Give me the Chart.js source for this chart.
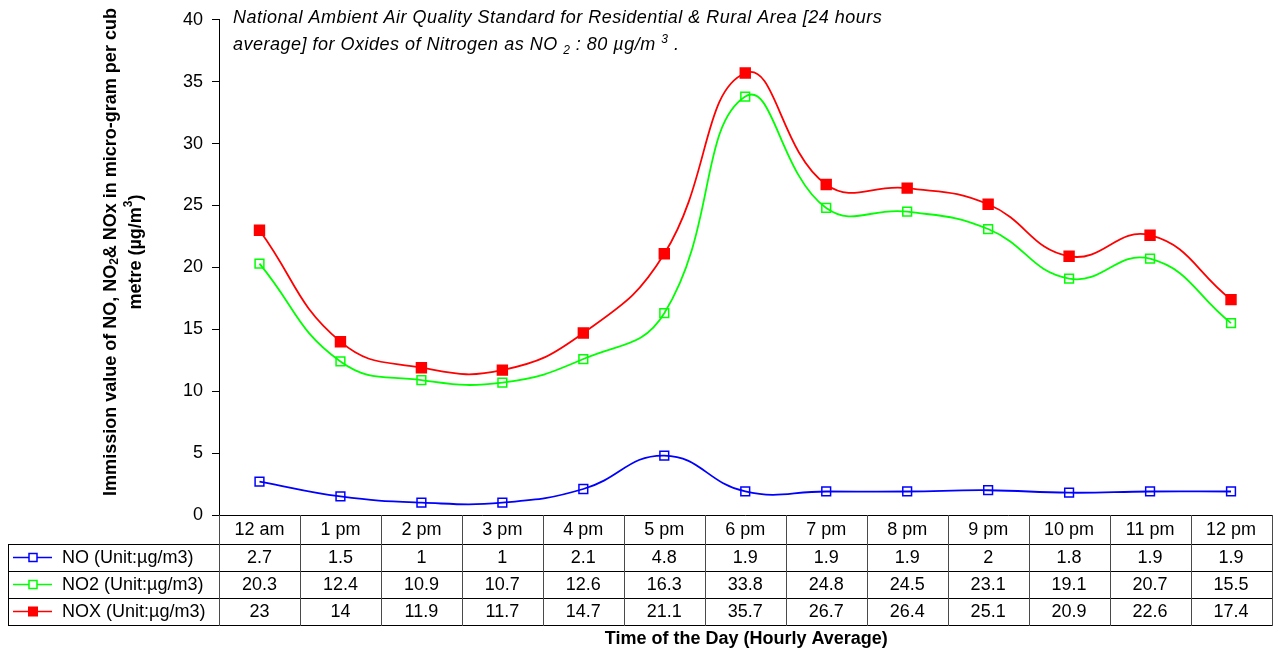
<!DOCTYPE html>
<html>
<head>
<meta charset="utf-8">
<title>Oxides of Nitrogen – hourly average</title>
<script src="https://cdn.jsdelivr.net/npm/chart.js@4/dist/chart.umd.min.js"></script>
<style>
  html, body { margin: 0; padding: 0; background: #ffffff; }
  canvas { display: block; }
</style>
</head>
<body>
<canvas id="chart" width="1280" height="652"></canvas>
<script>
// Hourly categories and the three measured series (µg/m³)
const categories = ['12 am', '1 pm', '2 pm', '3 pm', '4 pm', '5 pm', '6 pm', '7 pm', '8 pm', '9 pm', '10 pm', '11 pm', '12 pm'];
const noValues  = [2.7, 1.5, 1, 1, 2.1, 4.8, 1.9, 1.9, 1.9, 2, 1.8, 1.9, 1.9];
const no2Values = [20.3, 12.4, 10.9, 10.7, 12.6, 16.3, 33.8, 24.8, 24.5, 23.1, 19.1, 20.7, 15.5];
const noxValues = [23, 14, 11.9, 11.7, 14.7, 21.1, 35.7, 26.7, 26.4, 25.1, 20.9, 22.6, 17.4];
const seriesNames = ['NO (Unit:µg/m3)', 'NO2 (Unit:µg/m3)', 'NOX (Unit:µg/m3)'];
const yMin = 0, yMax = 40, yStep = 5;

const FONT = '"Liberation Sans", Arial, Helvetica, sans-serif';
const colors = ['#0000FF', '#00FF00', '#FF0000'];
const seriesValues = [noValues, no2Values, noxValues];

// Draws a run of text pieces, some of them sub- or superscripted
function drawRich(ctx, parts, x, y, size, style, align, spacing) {
  ctx.letterSpacing = spacing || '0px';
  const widths = parts.map(p => {
    ctx.font = `${style} ${p.s ? Math.round(size * 0.65) : size}px ${FONT}`;
    return ctx.measureText(p.t).width;
  });
  const total = widths.reduce((a, b) => a + b, 0);
  let cx = align === 'center' ? x - total / 2 : x;
  ctx.textAlign = 'left';
  parts.forEach((p, i) => {
    ctx.font = `${style} ${p.s ? Math.round(size * 0.65) : size}px ${FONT}`;
    let dy = 0;
    if (p.s === 'sub') dy = size * 0.2;
    if (p.s === 'sup') dy = -size * 0.4;
    ctx.fillText(p.t, cx, y + dy);
    cx += widths[i];
  });
  ctx.letterSpacing = '0px';
}

function drawKey(ctx, idx, cx, cy) {
  ctx.save();
  ctx.strokeStyle = colors[idx];
  ctx.lineWidth = 1.5;
  ctx.beginPath();
  ctx.moveTo(13, cy);
  ctx.lineTo(52, cy);
  ctx.stroke();
  if (idx === 2) {
    ctx.fillStyle = colors[idx];
    ctx.fillRect(cx - 5, cy - 5, 10, 10);
  } else {
    ctx.fillStyle = '#ffffff';
    ctx.fillRect(cx - 4, cy - 4, 8, 8);
    ctx.strokeRect(cx - 4, cy - 4, 8, 8);
  }
  ctx.restore();
}

// Data table under the plot, plus the free-standing texts
const tablePlugin = {
  id: 'dataTable',
  afterDraw(chart) {
    const ctx = chart.ctx;
    const xs = chart.scales.x;
    const area = chart.chartArea;
    const n = categories.length;
    const bounds = [];
    for (let i = 0; i <= n; i++) {
      if (i === 0) bounds.push(area.left);
      else if (i === n) bounds.push(area.right);
      else bounds.push((xs.getPixelForValue(i - 1) + xs.getPixelForValue(i)) / 2);
    }
    const tableLeft = 8;
    const headerTop = area.bottom;
    const headerH = 29;
    const rowH = 27;
    const rowTops = [headerTop + headerH, headerTop + headerH + rowH, headerTop + headerH + 2 * rowH];
    const tableBottom = headerTop + headerH + 3 * rowH;

    ctx.save();
    // grid of the table
    ctx.lineWidth = 1;
    ctx.strokeStyle = '#000000';
    ctx.beginPath();
    rowTops.concat([tableBottom]).forEach(y => {
      ctx.moveTo(tableLeft, Math.round(y) + 0.5);
      ctx.lineTo(area.right + 0.5, Math.round(y) + 0.5);
    });
    ctx.moveTo(tableLeft + 0.5, rowTops[0]);
    ctx.lineTo(tableLeft + 0.5, tableBottom + 1);
    ctx.stroke();
    ctx.strokeStyle = '#4a4a4a';
    ctx.beginPath();
    bounds.forEach(bx => {
      ctx.moveTo(Math.round(bx) + 0.5, headerTop);
      ctx.lineTo(Math.round(bx) + 0.5, tableBottom + 1);
    });
    ctx.stroke();

    // header labels and values
    ctx.fillStyle = '#000000';
    ctx.textAlign = 'center';
    ctx.textBaseline = 'middle';
    ctx.font = `18px ${FONT}`;
    categories.forEach((c, i) => {
      ctx.fillText(c, xs.getPixelForValue(i), headerTop + headerH / 2 + 1);
    });
    seriesValues.forEach((vals, r) => {
      const cy = rowTops[r] + rowH / 2 + 1;
      vals.forEach((v, i) => {
        ctx.fillText(String(v), xs.getPixelForValue(i), cy);
      });
      drawKey(ctx, r, 33, cy - 1);
      ctx.textAlign = 'left';
      ctx.fillStyle = '#000000';
      ctx.font = `18px ${FONT}`;
      ctx.fillText(seriesNames[r], 62, cy);
      ctx.textAlign = 'center';
    });

    // x-axis title
    ctx.font = `bold 18px ${FONT}`;
    ctx.fillText('Time of the Day (Hourly Average)', (area.left + area.right) / 2 + 1, 639);

    // y-axis title (two rotated lines)
    ctx.save();
    ctx.translate(111, 252);
    ctx.rotate(-Math.PI / 2);
    ctx.textBaseline = 'middle';
    drawRich(ctx, [
      { t: 'Immission value of NO, NO' }, { t: '2', s: 'sub' }, { t: '& NOx in micro-gram per cub' }
    ], 0, 0, 18, 'bold', 'center');
    drawRich(ctx, [
      { t: 'metre (µg/m' }, { t: '3', s: 'sup' }, { t: ')' }
    ], 0, 25, 18, 'bold', 'center');
    ctx.restore();

    // standard note at the top of the plot
    ctx.textBaseline = 'alphabetic';
    drawRich(ctx, [
      { t: 'National Ambient Air Quality Standard for Residential & Rural Area [24 hours' }
    ], 233, 23, 18, 'italic', 'left', '0.5px');
    drawRich(ctx, [
      { t: 'average] for Oxides of Nitrogen as NO ' }, { t: '2', s: 'sub' },
      { t: ' : 80 µg/m ' }, { t: '3', s: 'sup' }, { t: ' .' }
    ], 233, 50, 18, 'italic', 'left', '0.5px');
    ctx.restore();
  }
};

const mkSet = (idx, filled) => ({
  label: seriesNames[idx],
  data: seriesValues[idx],
  borderColor: colors[idx],
  borderWidth: 1.8,
  tension: 0.45,
  fill: false,
  pointStyle: 'rect',
  pointRadius: filled ? 7 : 6.2,
  pointBorderWidth: 1.5,
  pointBorderColor: colors[idx],
  pointBackgroundColor: filled ? colors[idx] : 'rgba(255,255,255,0)'
});

new Chart(document.getElementById('chart'), {
  type: 'line',
  data: {
    labels: categories,
    datasets: [mkSet(0, false), mkSet(1, false), mkSet(2, true)]
  },
  options: {
    responsive: false,
    animation: false,
    layout: { padding: { top: 19, right: 8, left: 0, bottom: 0 } },
    plugins: {
      legend: { display: false },
      tooltip: { enabled: false }
    },
    scales: {
      x: {
        offset: true,
        grid: { display: true, drawOnChartArea: false, drawTicks: false, color: '#000000' },
        border: { display: true, color: '#000000', width: 1 },
        ticks: { display: false },
        afterFit(scale) { scale.height = 137; }
      },
      y: {
        min: yMin,
        max: yMax,
        grid: { drawOnChartArea: false, drawTicks: true, tickLength: 7, color: '#000000' },
        border: { display: true, color: '#000000', width: 1 },
        ticks: {
          stepSize: yStep,
          padding: 9,
          color: '#000000',
          font: { family: FONT, size: 18 }
        },
        afterFit(scale) { scale.width = 219; }
      }
    }
  },
  plugins: [tablePlugin]
});
</script>
</body>
</html>
